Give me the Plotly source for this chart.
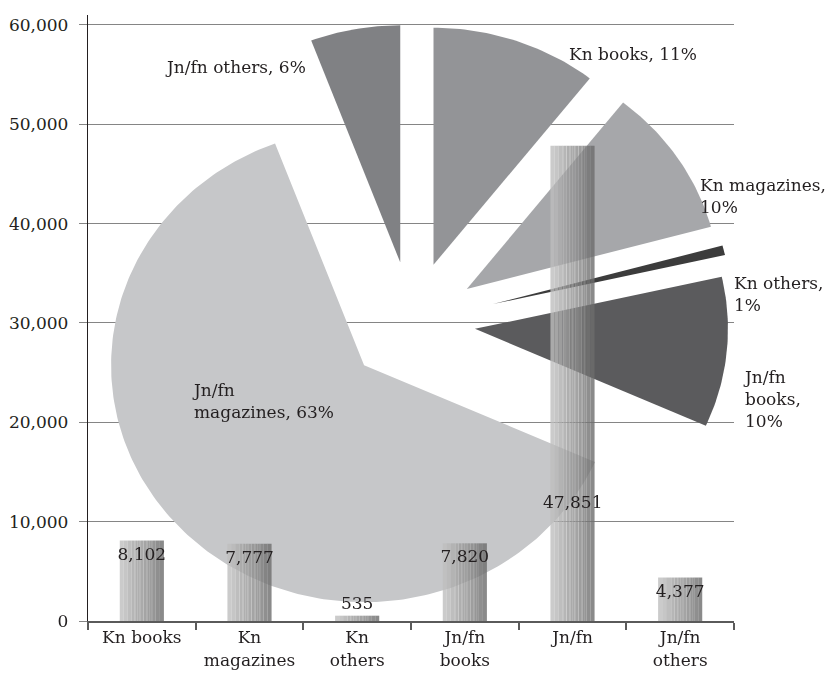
import math
import plotly.graph_objects as go

# ---------------- data ----------------
categories = ["Kn books", "Kn magazines", "Kn others", "Jn/fn books", "Jn/fn", "Jn/fn others"]
tick_labels = ["Kn books", "Kn<br>magazines", "Kn<br>others", "Jn/fn<br>books", "Jn/fn", "Jn/fn<br>others"]
values = [8102, 7777, 535, 7820, 47851, 4377]
pie_names = ["Kn books", "Kn magazines", "Kn others", "Jn/fn books", "Jn/fn magazines", "Jn/fn others"]
y_ticks = [0, 10000, 20000, 30000, 40000, 50000, 60000]

# ---------------- styles ----------------
FONT = "DejaVu Serif"
TXT = "#231f20"
slice_colors = ["#939497", "#a6a7aa", "#3c3c3c", "#5b5b5d", "#c6c7c9", "#808184"]
slice_pull = [0.26, 0.26, 0.33, 0.25, 0.26, 0.26]
slice_rscale = [1.0, 1.0, 0.94, 1.0, 1.0, 1.0]
label_templates = ["Kn books, {p}%", "Kn magazines,<br>{p}%", "Kn others,<br>{p}%",
                   "Jn/fn<br>books,<br>{p}%", "Jn/fn<br>magazines, {p}%", "Jn/fn others, {p}%"]
# label anchor (left x, middle y) in screen pixels
label_pos = [(567, 54), (698, 196), (732, 294), (741, 399), (190, 401), (163, 67)]

W, H = 828, 674
ML, MR, MT, MB = 88, 94, 15, 53
PW, PH = W - ML - MR, H - MT - MB
BOTTOM = MT + PH
PIE_CX, PIE_CY = 412 - ML, BOTTOM - 323
PIE_RX, PIE_RY = 253, 237

BAR_W = 0.41
N_STRIPS = 11
BAR_OPACITY = 0.8
observed = [203, 198, 190, 182, 176, 170, 165, 158, 150, 143, 138]

fig = go.Figure()

# ---------------- exploded pie (drawn as filled polygons on hidden axes) ----------------
total = sum(values)
cum = 0
for i, v in enumerate(values):
    a0 = 360.0 * cum / total
    cum += v
    a1 = 360.0 * cum / total
    mid = math.radians((a0 + a1) / 2)
    ox = PIE_CX + slice_pull[i] * PIE_RX * math.sin(mid)
    oy = PIE_CY + slice_pull[i] * PIE_RY * math.cos(mid)
    rx, ry = PIE_RX * slice_rscale[i], PIE_RY * slice_rscale[i]
    n = max(4, int((a1 - a0) / 1.0))
    xs, ys = [ox], [oy]
    for k in range(n + 1):
        t = math.radians(a0 + (a1 - a0) * k / n)
        xs.append(ox + rx * math.sin(t))
        ys.append(oy + ry * math.cos(t))
    xs.append(ox)
    ys.append(oy)
    fig.add_trace(go.Scatter(x=xs, y=ys, mode="lines", fill="toself",
                             fillcolor=slice_colors[i], line=dict(width=0, color=slice_colors[i]),
                             hoverinfo="skip", xaxis="x", yaxis="y", showlegend=False))

# ---------------- bars (strips fake the cylindrical shading) ----------------
for k in range(N_STRIPS):
    c = int(round((observed[k] - 255 * (1 - BAR_OPACITY)) / BAR_OPACITY))
    col = f"rgb({c},{c},{c})"
    marker = dict(color=col, line=dict(width=0))
    if 3 <= k <= 8:
        lc = min(255, c + 34)
        marker["pattern"] = dict(shape="|", fgcolor=f"rgb({lc},{lc},{lc})", bgcolor=col,
                                 size=3, solidity=0.3)
    fig.add_trace(go.Bar(x=categories, y=values, width=BAR_W / N_STRIPS,
                         offset=-BAR_W / 2 + k * BAR_W / N_STRIPS,
                         marker=marker, opacity=BAR_OPACITY,
                         xaxis="x2", yaxis="y2", hoverinfo="skip", showlegend=False))

# value labels
text_pos = ["inside", "inside", "outside", "inside", "none", "inside"]
fig.add_trace(go.Bar(x=categories, y=values, width=0.9,
                     marker=dict(color="rgba(0,0,0,0)", line=dict(width=0)),
                     texttemplate="%{y:,}", textposition=text_pos, insidetextanchor="end",
                     textfont=dict(family=FONT, size=17, color=TXT),
                     insidetextfont=dict(family=FONT, size=17, color=TXT),
                     outsidetextfont=dict(family=FONT, size=17, color=TXT),
                     constraintext="none", cliponaxis=False,
                     xaxis="x2", yaxis="y2", hoverinfo="skip", showlegend=False))

annotations = [dict(x=categories[4], y=12000, xref="x2", yref="y2", text=f"{values[4]:,}",
                    showarrow=False, font=dict(family=FONT, size=17, color=TXT))]

# pie labels (paper coordinates so they may sit outside the plot area)
for i, v in enumerate(values):
    p = round(100 * v / total)
    lx, ly = label_pos[i]
    annotations.append(dict(x=(lx - ML) / PW, y=(BOTTOM - ly) / PH, xref="paper", yref="paper",
                            text=label_templates[i].format(p=p), showarrow=False,
                            xanchor="left", yanchor="middle", align="left",
                            font=dict(family=FONT, size=17, color=TXT)))

fig.update_layout(
    width=W, height=H,
    margin=dict(l=ML, r=MR, t=MT, b=MB, autoexpand=False),
    paper_bgcolor="white", plot_bgcolor="white",
    barmode="overlay", showlegend=False,
    font=dict(family=FONT, size=17, color=TXT),
    xaxis=dict(range=[0, PW], visible=False, fixedrange=True, automargin=False),
    yaxis=dict(range=[0, PH], visible=False, fixedrange=True, automargin=False),
    xaxis2=dict(type="category", overlaying="x", anchor="y2", side="bottom",
                range=[-0.5, len(categories) - 0.5], automargin=False,
                tickvals=categories, ticktext=tick_labels,
                showline=True, linecolor="#5a5a5a", linewidth=2,
                ticks="outside", tickson="boundaries", ticklen=7, tickwidth=1.5, tickcolor="#5a5a5a",
                showgrid=False, zeroline=False,
                tickfont=dict(family=FONT, size=17, color=TXT)),
    yaxis2=dict(overlaying="y", anchor="x2", side="left", range=[0, 61000], automargin=False,
                tickvals=y_ticks, tickformat=",",
                showgrid=True, gridcolor="#858585", gridwidth=1.2,
                ticks="outside", ticklen=8, tickwidth=1.2, tickcolor="#858585",
                showline=True, linecolor=TXT, linewidth=1.3, zeroline=False,
                ticklabelstandoff=7,
                tickfont=dict(family=FONT, size=17, color=TXT)),
    annotations=annotations,
)

fig.write_html("out.html")
